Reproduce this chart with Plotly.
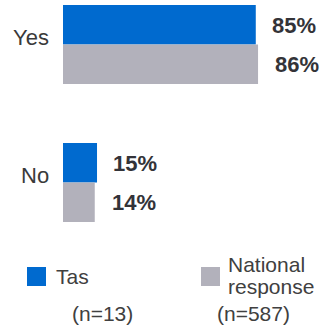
import plotly.graph_objects as go

categories = ["Yes", "No"]
tas_values = [85, 15]
national_values = [86, 14]
series_names = ["Tas", "National response"]
sample_sizes = ["(n=13)", "(n=587)"]

BLUE = "#006ACF"
GRAY = "#B2B1BB"
W, H = 322, 327

fig = go.Figure()
fig.add_trace(go.Bar(y=categories, x=tas_values, orientation="h", name=series_names[0],
                     marker=dict(color=BLUE, line=dict(width=0)), showlegend=False))
fig.add_trace(go.Bar(y=categories, x=national_values, orientation="h", name=series_names[1],
                     marker=dict(color=GRAY, line=dict(width=0)), showlegend=False))

annotations = []
for cat, tv, nv in zip(categories, tas_values, national_values):
    annotations.append(dict(x=tv, y=cat, xref="x", yref="y", text=f"{tv}%", showarrow=False,
                            xanchor="left", xshift=14, yshift=19,
                            font=dict(family="Liberation Sans, Arial", size=22, color="#333338", weight="bold")))
    annotations.append(dict(x=nv, y=cat, xref="x", yref="y", text=f"{nv}%", showarrow=False,
                            xanchor="left", xshift=15, yshift=-20,
                            font=dict(family="Liberation Sans, Arial", size=22, color="#333338", weight="bold")))
    annotations.append(dict(x=0, y=cat, xref="x", yref="y", text=cat, showarrow=False,
                            xanchor="right", xshift=-12, yshift=7,
                            font=dict(family="Liberation Sans, Arial", size=22, color="#3a3a3a")))

leg_font = dict(family="Liberation Sans, Arial", size=21, color="#404040")
nat_lines = series_names[1].split(" ")
annotations.append(dict(x=54 / W, y=1 - 276 / H, xref="paper", yref="paper", text=series_names[0],
                        showarrow=False, xanchor="left", yanchor="middle", font=leg_font))
annotations.append(dict(x=226 / W, y=1 - 264 / H, xref="paper", yref="paper", text=nat_lines[0],
                        showarrow=False, xanchor="left", yanchor="middle", font=leg_font))
annotations.append(dict(x=226 / W, y=1 - 286 / H, xref="paper", yref="paper", text=nat_lines[1],
                        showarrow=False, xanchor="left", yanchor="middle", font=leg_font))
annotations.append(dict(x=102 / W, y=1 - 313 / H, xref="paper", yref="paper", text=sample_sizes[0],
                        showarrow=False, xanchor="center", yanchor="middle", font=leg_font))
annotations.append(dict(x=253 / W, y=1 - 313 / H, xref="paper", yref="paper", text=sample_sizes[1],
                        showarrow=False, xanchor="center", yanchor="middle", font=leg_font))

shapes = [
    dict(type="rect", xref="paper", yref="paper", x0=27 / W, x1=46 / W, y0=1 - 286 / H, y1=1 - 267 / H,
         fillcolor=BLUE, line=dict(width=0)),
    dict(type="rect", xref="paper", yref="paper", x0=201 / W, x1=220 / W, y0=1 - 286 / H, y1=1 - 267 / H,
         fillcolor=GRAY, line=dict(width=0)),
]

fig.update_layout(
    width=W, height=H,
    margin=dict(l=0, r=0, t=0, b=0),
    paper_bgcolor="white", plot_bgcolor="white",
    barmode="group", bargap=0.4275, bargroupgap=0,
    xaxis=dict(domain=[63 / W, 1], range=[0, 259 / 2.268], visible=False, fixedrange=True),
    yaxis=dict(domain=[97 / H, 1], type="category", categoryorder="array", categoryarray=categories,
               range=[1 + 47.5 / 138, -44.5 / 138], showticklabels=False, showgrid=False,
               zeroline=False, showline=False, fixedrange=True),
    annotations=annotations,
    shapes=shapes,
)

fig.write_html("out.html", config={"displayModeBar": False, "staticPlot": True},
               post_script="document.body.style.margin='0';document.body.style.overflow='hidden';")
